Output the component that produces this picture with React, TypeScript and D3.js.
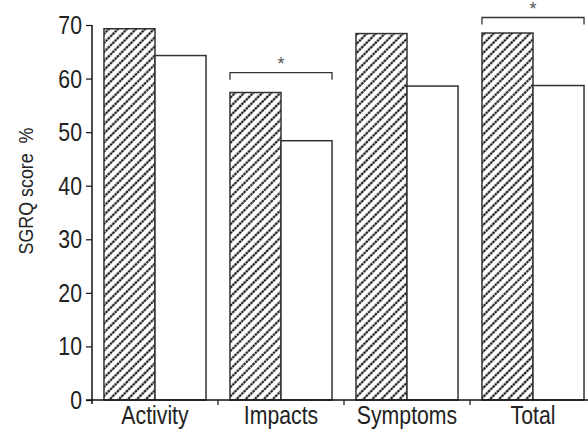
import React, { useEffect, useRef } from 'react';
import * as d3 from 'd3';

const categories = ['Activity', 'Impacts', 'Symptoms', 'Total'];
const hatchedValues = [69.3, 57.4, 68.4, 68.5];
const whiteValues = [64.3, 48.4, 58.6, 58.7];
const significant = ['Impacts', 'Total'];
const bracketLevels = [61.1, 71.4];
const yTicks = [0, 10, 20, 30, 40, 50, 60, 70];

const w = 588;
const h = 429;
const left = 92;
const bottom = 400;
const top = 25;
const font = "'Liberation Sans', Arial, sans-serif";
const squeeze = 0.85;

const App = () => {
  const svgRef = useRef(null);

  useEffect(() => {
    const svg = d3.select(svgRef.current);
    svg.selectAll('*').remove();

    // condensed look: plain sans squeezed horizontally
    const label = (parent, px, py, txt, size, anchor, rot = 0) =>
      parent
        .append('text')
        .attr('transform', 'translate(' + px + ',' + py + ') rotate(' + rot + ') scale(' + squeeze + ',1)')
        .attr('text-anchor', anchor)
        .attr('font-family', font)
        .attr('font-size', size)
        .attr('fill', '#222')
        .style('white-space', 'pre')
        .text(txt);

    const x = d3
      .scaleBand()
      .domain(categories)
      .range([left, left + 504])
      .paddingInner(0.19)
      .paddingOuter(0.095);

    const sub = d3.scaleBand().domain(['a', 'b']).range([0, x.bandwidth()]);

    const y = d3.scaleLinear().domain([0, 70]).range([bottom, top]);

    const ps = 6.4;
    const pat = svg
      .append('defs')
      .append('pattern')
      .attr('id', 'hatch')
      .attr('patternUnits', 'userSpaceOnUse')
      .attr('width', ps)
      .attr('height', ps)
      .attr('patternTransform', 'rotate(45)');
    pat.append('rect').attr('width', ps).attr('height', ps).attr('fill', '#fff');
    pat
      .append('line')
      .attr('x1', 1.5)
      .attr('x2', 1.5)
      .attr('y1', 0)
      .attr('y2', ps)
      .attr('stroke', '#000')
      .attr('stroke-width', 2)
      .attr('stroke-dasharray', '2.6,0.6');

    // bars
    const g = svg.append('g');
    categories.forEach((c, i) => {
      g.append('rect')
        .attr('x', x(c) + sub('a'))
        .attr('y', y(hatchedValues[i]))
        .attr('width', sub.bandwidth())
        .attr('height', y(0) - y(hatchedValues[i]))
        .attr('fill', 'url(#hatch)')
        .attr('stroke', '#333')
        .attr('stroke-width', 1.5);
      g.append('rect')
        .attr('x', x(c) + sub('b'))
        .attr('y', y(whiteValues[i]))
        .attr('width', sub.bandwidth())
        .attr('height', y(0) - y(whiteValues[i]))
        .attr('fill', '#fff')
        .attr('stroke', '#333')
        .attr('stroke-width', 1.5);
    });

    // y axis
    const ya = svg
      .append('g')
      .attr('transform', 'translate(' + left + ',0)')
      .call(d3.axisLeft(y).tickValues(yTicks).tickSize(6).tickFormat(() => ''));
    ya.select('.domain')
      .attr('d', 'M0,' + top + 'V' + (bottom + 4))
      .attr('stroke', '#111')
      .attr('stroke-width', 1.5);
    ya.selectAll('.tick line').attr('stroke', '#111').attr('stroke-width', 1.2);
    yTicks.forEach((t) => label(svg, 82, y(t) + 9, String(t), 25, 'end'));

    // x axis with ticks at group boundaries
    const gap = x.step() * x.paddingInner();
    const xa = svg.append('g');
    xa.append('line')
      .attr('x1', left - 6)
      .attr('x2', w)
      .attr('y1', bottom)
      .attr('y2', bottom)
      .attr('stroke', '#111')
      .attr('stroke-width', 1.5);
    categories.slice(1).forEach((c) => {
      const b = x(c) - gap / 2;
      xa.append('line')
        .attr('x1', b)
        .attr('x2', b)
        .attr('y1', bottom)
        .attr('y2', bottom + 5)
        .attr('stroke', '#111')
        .attr('stroke-width', 1.2);
    });
    categories.forEach((c) => label(xa, x(c) + x.bandwidth() / 2, 424, c, 25, 'middle'));

    label(svg, 33, 191, 'SGRQ score  %', 21, 'middle', -90);

    // significance brackets
    significant.forEach((c, k) => {
      const by = y(bracketLevels[k]);
      const x0 = x(c);
      const x1 = x(c) + x.bandwidth();
      svg
        .append('path')
        .attr('d', 'M' + x0 + ',' + (by + 7) + 'V' + by + 'H' + x1 + 'V' + (by + 7))
        .attr('fill', 'none')
        .attr('stroke', '#333')
        .attr('stroke-width', 1.3);
      svg
        .append('text')
        .attr('x', (x0 + x1) / 2)
        .attr('y', by - 3)
        .attr('text-anchor', 'middle')
        .attr('font-family', font)
        .attr('font-size', 18)
        .attr('fill', '#555')
        .text('*');
    });
  }, []);

  return (
    <div>
      <svg ref={svgRef} width={w} height={h} style={{ position: 'absolute', left: 0, top: 0 }}></svg>
    </div>
  );
};

export default App;
